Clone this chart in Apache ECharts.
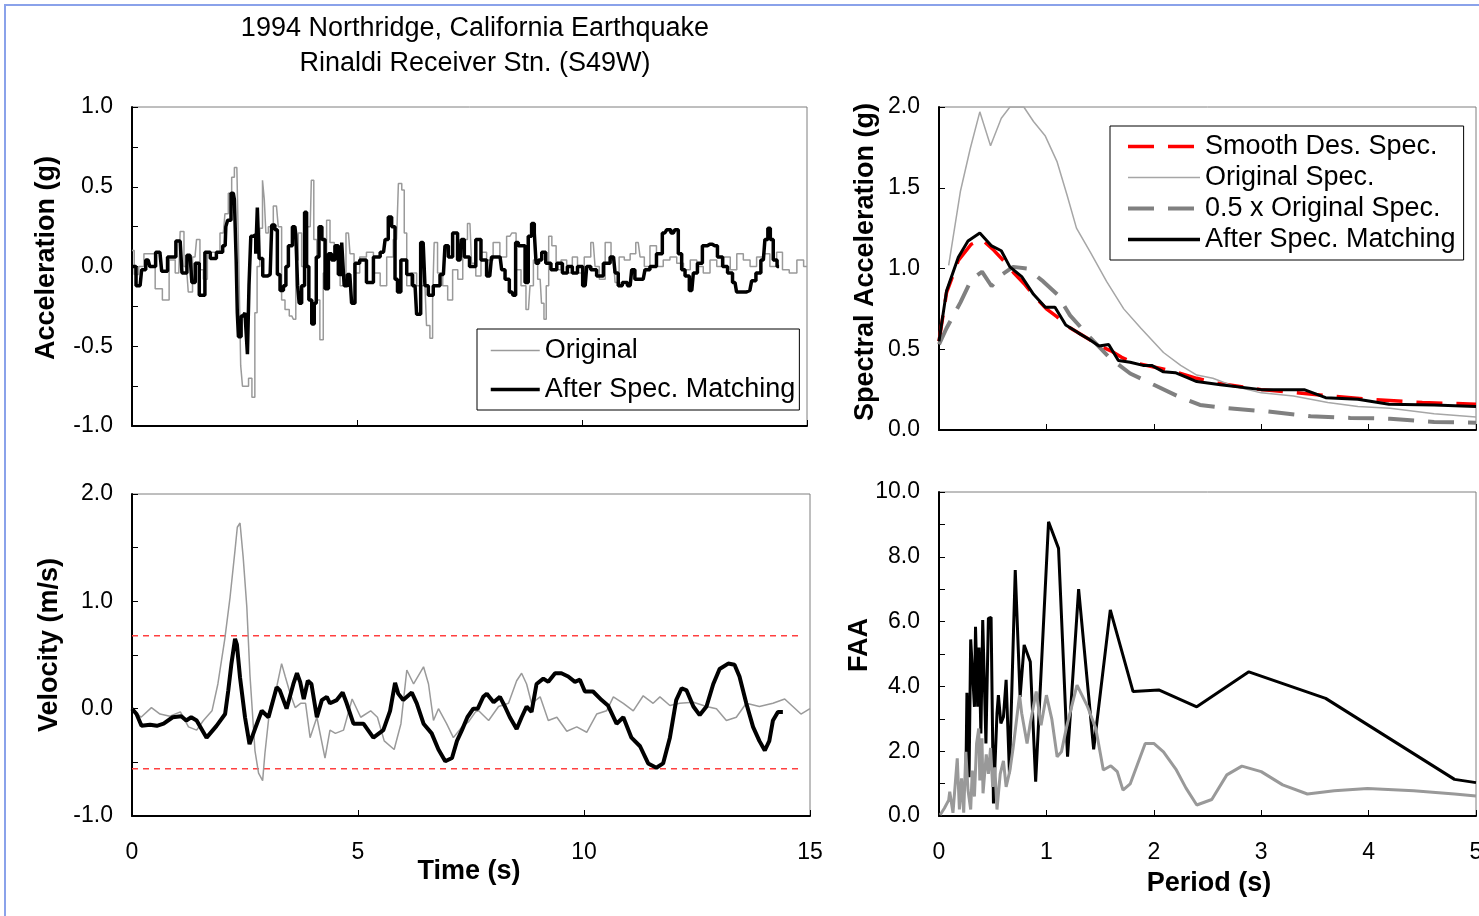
<!DOCTYPE html>
<html>
<head>
<meta charset="utf-8">
<title>1994 Northridge – Rinaldi Receiver Stn. (S49W)</title>
<script src="https://cdn.jsdelivr.net/npm/echarts@6/dist/echarts.min.js"></script>
<style>
  html, body { margin: 0; padding: 0; background: #fff; }
  #chart { width: 1479px; height: 916px; }
</style>
</head>
<body>
<div id="chart"></div>
<script>
// ---- Acceleration time histories: [time (s), acceleration (g)] ----
const accOriginal = [
  [0,0.1],[0.1,-0.05],[0.2,0],[0.33,0.08],[0.45,0.08],[0.58,-0.14],[0.77,-0.21],[0.88,0.04],[1.04,-0.04],[1.1,0.22],
  [1.21,0],[1.29,-0.16],[1.4,0.06],[1.47,0.17],[1.55,-0.02],[1.62,-0.08],[1.73,0.09],[1.88,0.09],[2.03,0.21],[2.1,0.33],
  [2.18,0.46],[2.25,0.56],[2.3,0.62],[2.36,0.62],[2.39,0],[2.44,-0.62],[2.47,-0.75],[2.55,-0.75],[2.63,-0.7],[2.7,-0.82],
  [2.76,-0.29],[2.8,0],[2.88,0.24],[2.92,0.54],[2.96,0.42],[2.99,0.21],[3.07,0.25],[3.21,0.38],[3.29,0.25],[3.36,-0.21],
  [3.44,-0.27],[3.55,-0.31],[3.62,-0.33],[3.66,0.04],[3.73,0.21],[3.81,0],[3.96,0.25],[4.01,0.54],[4.07,0.17],[4.14,-0.21],
  [4.21,-0.46],[4.29,-0.04],[4.36,0.29],[4.44,0.15],[4.55,0.08],[4.7,-0.12],[4.81,0.21],[4.88,0.08],[4.99,-0.04],[5.13,0.06],
  [5.29,0.09],[5.44,-0.04],[5.59,-0.12],[5.73,0.06],[5.88,0.17],[5.96,0.52],[6.03,0.48],[6.07,0.21],[6.14,-0.12],[6.25,-0.04],
  [6.4,-0.12],[6.51,-0.12],[6.58,-0.37],[6.66,-0.45],[6.7,-0.21],[6.73,0.15],[6.85,-0.04],[6.96,-0.12],[7.07,-0.21],[7.18,-0.02],
  [7.3,-0.08],[7.4,0.17],[7.51,0.27],[7.58,0.02],[7.7,-0.06],[7.81,0.09],[7.95,0.04],[8.1,0.15],[8.25,0.06],[8.4,0.19],
  [8.48,0.21],[8.59,-0.02],[8.7,-0.12],[8.81,-0.27],[8.88,-0.12],[8.96,0.04],[9.07,-0.08],[9.13,-0.23],[9.18,-0.33],[9.23,-0.12],
  [9.29,0.19],[9.37,0.13],[9.48,-0.02],[9.59,0.04],[9.73,-0.04],[9.84,0.06],[9.96,-0.04],[10.14,0.06],[10.25,0.15],[10.33,0],
  [10.44,-0.08],[10.59,0.15],[10.7,0.04],[10.77,-0.1],[10.88,0.06],[11.0,0.04],[11.14,0.08],[11.25,0.15],[11.33,0.06],[11.44,0],
  [11.58,0.13],[11.73,0],[11.88,0.04],[12.03,0.06],[12.18,0.02],[12.33,-0.02],[12.48,0.04],[12.62,0],[12.77,-0.04],[12.92,0.04],
  [13.07,0],[13.22,0.06],[13.37,-0.02],[13.51,0.08],[13.66,0.04],[13.81,0],[13.95,0.06],[14.1,0.08],[14.25,0],[14.4,0.09],
  [14.51,-0.02],[14.7,-0.04],[14.85,0.04],[15.0,0]
];
const accMatched = [
  [0,0],[0.18,-0.12],[0.25,-0.02],[0.36,0.04],[0.43,0],[0.62,0.09],[0.7,-0.03],[0.88,0.06],[1.07,0.16],[1.15,-0.04],
  [1.29,0.07],[1.37,-0.1],[1.44,0.02],[1.55,-0.18],[1.69,0.09],[1.79,0.05],[1.96,0.09],[2.07,0.13],[2.1,0.25],[2.15,0.29],
  [2.25,0.46],[2.3,0.42],[2.33,0.04],[2.35,-0.29],[2.38,-0.44],[2.47,-0.31],[2.55,-0.29],[2.58,-0.55],[2.62,-0.12],[2.66,0.19],
  [2.73,0.2],[2.77,0.08],[2.8,0.37],[2.85,0.05],[2.96,-0.06],[3.07,-0.05],[3.14,0.26],[3.21,0.23],[3.25,-0.05],[3.33,-0.15],
  [3.4,-0.12],[3.44,0],[3.51,0.13],[3.62,0.25],[3.66,0.2],[3.7,-0.12],[3.73,-0.23],[3.81,-0.12],[3.86,0.34],[3.9,0],
  [3.96,-0.21],[4.03,-0.36],[4.07,-0.23],[4.12,0.06],[4.19,0.25],[4.25,0.17],[4.33,-0.14],[4.4,0.08],[4.47,0.04],[4.55,0.13],
  [4.62,-0.05],[4.7,0.15],[4.73,-0.12],[4.84,-0.05],[4.92,-0.23],[4.99,0.02],[5.13,0.04],[5.29,-0.1],[5.44,0.06],[5.59,0.09],
  [5.66,0.17],[5.73,0.31],[5.81,0.25],[5.88,-0.08],[5.92,-0.16],[6.03,0.04],[6.18,-0.05],[6.29,-0.12],[6.36,-0.3],[6.47,0.15],
  [6.55,-0.12],[6.62,-0.18],[6.77,-0.12],[6.92,-0.05],[6.99,0.13],[7.07,0.06],[7.18,0.21],[7.29,0.04],[7.35,0.17],[7.42,0.06],
  [7.58,0],[7.7,0.17],[7.81,0.04],[7.95,-0.06],[8.03,0.06],[8.18,0.06],[8.25,-0.02],[8.33,-0.08],[8.44,-0.16],[8.5,-0.18],
  [8.55,0.15],[8.62,0.13],[8.7,0.13],[8.77,-0.1],[8.84,0.19],[8.92,0.27],[8.96,0.21],[9.0,0.02],[9.07,0.04],[9.14,0.09],
  [9.25,0.02],[9.37,-0.02],[9.51,0.02],[9.62,-0.04],[9.73,0],[9.84,-0.04],[9.96,0],[10.07,-0.12],[10.14,0],[10.25,-0.02],
  [10.4,-0.06],[10.55,0.02],[10.7,0.06],[10.77,-0.04],[10.84,-0.12],[10.95,-0.1],[11.07,-0.12],[11.14,-0.02],[11.21,-0.08],[11.36,-0.08],
  [11.44,-0.02],[11.58,0],[11.73,0.08],[11.84,0.21],[11.92,0.23],[12.03,0.21],[12.1,0.23],[12.18,0.08],[12.25,-0.02],[12.33,-0.06],
  [12.44,-0.15],[12.51,-0.04],[12.62,0.02],[12.73,0.13],[12.84,0.14],[12.95,0.13],[13.07,0.06],[13.18,0],[13.29,-0.04],[13.4,-0.1],
  [13.47,-0.16],[13.58,-0.16],[13.73,-0.15],[13.81,-0.09],[13.92,-0.04],[14.03,0.04],[14.1,0.17],[14.16,0.24],[14.21,0.17],[14.29,0.04],
  [14.38,0]
];

// ---- Velocity time histories: [time (s), velocity (m/s)] ----
const velOriginal = [
  [0,0],[0.2,-0.08],[0.43,0.01],[0.62,-0.05],[0.84,-0.07],[1.07,-0.03],[1.25,-0.17],[1.43,-0.2],[1.58,-0.11],[1.77,-0.02],
  [1.9,0.23],[2.05,0.64],[2.17,1.04],[2.28,1.48],[2.33,1.69],[2.39,1.73],[2.46,1.41],[2.54,0.95],[2.61,0.31],[2.72,-0.39],
  [2.8,-0.6],[2.89,-0.67],[2.94,-0.42],[3.05,0.01],[3.2,0.2],[3.31,0.42],[3.39,0.3],[3.5,0.14],[3.61,0.01],[3.73,0.05],
  [3.84,0.05],[3.94,-0.27],[4.09,-0.08],[4.27,-0.46],[4.38,-0.2],[4.5,-0.23],[4.68,-0.2],[4.87,0.09],[5.06,-0.08],[5.28,-0.02],
  [5.43,-0.08],[5.58,-0.3],[5.8,-0.38],[5.95,-0.14],[6.08,0.36],[6.23,0.23],[6.45,0.39],[6.56,0.23],[6.67,-0.11],[6.78,0],
  [6.96,-0.14],[7.11,-0.27],[7.3,-0.17],[7.45,-0.12],[7.6,-0.03],[7.67,-0.02],[7.89,-0.11],[8.11,0.02],[8.33,0.05],[8.51,0.26],
  [8.62,0.33],[8.73,0.23],[8.84,0.05],[9.03,0.11],[9.21,-0.11],[9.4,-0.08],[9.62,-0.21],[9.84,-0.17],[10.06,-0.22],[10.28,-0.05],
  [10.5,-0.02],[10.65,0.11],[10.87,0.05],[11.09,-0.02],[11.31,0.12],[11.53,0.05],[11.68,0.11],[11.9,0.03],[12.12,0.05],[12.42,0.06],
  [12.71,0.02],[12.93,0],[13.15,-0.11],[13.37,-0.08],[13.59,0.05],[13.88,0.02],[14.18,0.05],[14.44,0.09],[14.62,0.02],[14.8,-0.05],
  [15.0,0]
];
const velMatched = [
  [0,0],[0.1,-0.05],[0.21,-0.16],[0.4,-0.15],[0.55,-0.16],[0.7,-0.14],[0.9,-0.08],[1.09,-0.07],[1.2,-0.11],[1.31,-0.08],
  [1.43,-0.11],[1.65,-0.27],[1.87,-0.16],[2.06,-0.05],[2.13,0.17],[2.2,0.42],[2.28,0.65],[2.32,0.6],[2.39,0.29],[2.5,-0.08],
  [2.6,-0.33],[2.72,-0.19],[2.87,-0.02],[3.02,-0.08],[3.2,0.2],[3.27,0.17],[3.42,0],[3.57,0.23],[3.65,0.33],[3.72,0.25],
  [3.8,0.09],[3.89,0.26],[3.97,0.23],[4.09,-0.08],[4.2,0.08],[4.31,0.11],[4.38,0.05],[4.53,0.08],[4.66,0.15],[4.75,0.05],
  [4.9,-0.14],[5.12,-0.14],[5.34,-0.27],[5.56,-0.2],[5.71,-0.02],[5.82,0.24],[5.89,0.14],[6.0,0.08],[6.19,0.15],[6.3,0.05],
  [6.45,-0.14],[6.63,-0.23],[6.78,-0.38],[6.93,-0.49],[7.08,-0.46],[7.19,-0.3],[7.3,-0.2],[7.42,-0.08],[7.55,0],[7.65,0],
  [7.77,0.11],[7.85,0.14],[8.0,0.06],[8.14,0.11],[8.25,0.02],[8.36,-0.08],[8.51,-0.19],[8.62,-0.08],[8.73,0.02],[8.84,-0.03],
  [8.95,0.23],[9.1,0.28],[9.21,0.25],[9.36,0.33],[9.5,0.33],[9.65,0.3],[9.8,0.25],[9.91,0.27],[10.02,0.16],[10.2,0.16],
  [10.39,0.08],[10.53,0.03],[10.72,-0.14],[10.87,-0.08],[11.05,-0.27],[11.24,-0.35],[11.42,-0.51],[11.6,-0.55],[11.75,-0.51],[11.9,-0.27],
  [12.04,0.08],[12.16,0.19],[12.27,0.17],[12.42,0.02],[12.56,-0.06],[12.71,0.02],[12.86,0.23],[13.0,0.37],[13.19,0.42],[13.33,0.41],
  [13.44,0.3],[13.59,0.05],[13.74,-0.17],[13.88,-0.3],[14.0,-0.39],[14.1,-0.3],[14.18,-0.11],[14.29,-0.03],[14.4,-0.03]
];
// peak velocity bounds of the matched record (m/s) and the time span they cover
const velBounds = [0.68, -0.56];
const velBoundSpan = [0, 14.8];

// ---- Response spectra: [period (s), spectral acceleration (g)] ----
const saTarget = [
  [0,0.55],[0.07,0.85],[0.18,1.05],[0.3,1.15],[0.4,1.18],[0.5,1.12],[0.6,1.05],[0.7,0.97],[0.8,0.9],[0.9,0.82],
  [1.0,0.75],[1.1,0.7],[1.2,0.64],[1.3,0.6],[1.4,0.56],[1.5,0.52],[1.6,0.49],[1.7,0.45],[1.8,0.42],[2.0,0.39],
  [2.2,0.36],[2.4,0.32],[2.6,0.29],[2.8,0.27],[3.0,0.25],[3.5,0.22],[4.0,0.19],[4.5,0.17],[5.0,0.16]
];
const saOriginal = [
  [0.09,1.02],[0.2,1.48],[0.29,1.74],[0.38,1.97],[0.48,1.76],[0.58,1.93],[0.66,2.0],[0.79,2.0],[0.88,1.91],[0.99,1.82],
  [1.1,1.66],[1.19,1.46],[1.28,1.25],[1.41,1.1],[1.56,0.92],[1.72,0.75],[1.88,0.63],[2.09,0.48],[2.25,0.4],[2.4,0.34],
  [2.55,0.32],[2.75,0.27],[3.0,0.23],[3.3,0.21],[3.62,0.17],[3.9,0.145],[4.2,0.135],[4.61,0.1],[5.0,0.08]
];
const saHalfOriginal = [
  [0,0.53],[0.07,0.63],[0.2,0.79],[0.3,0.93],[0.4,0.98],[0.49,0.89],[0.58,0.96],[0.69,1.01],[0.82,1.0],[0.97,0.92],
  [1.1,0.84],[1.22,0.71],[1.41,0.57],[1.6,0.44],[1.78,0.35],[2.0,0.28],[2.22,0.21],[2.43,0.155],[2.68,0.135],[3.06,0.115],
  [3.46,0.085],[3.83,0.075],[4.2,0.07],[4.61,0.05],[5.0,0.045]
];
const saMatched = [
  [0,0.55],[0.07,0.86],[0.18,1.07],[0.27,1.17],[0.38,1.22],[0.49,1.14],[0.58,1.11],[0.66,1.01],[0.77,0.95],[0.88,0.84],
  [0.99,0.76],[1.08,0.76],[1.18,0.65],[1.3,0.6],[1.4,0.56],[1.49,0.52],[1.58,0.53],[1.67,0.43],[1.78,0.42],[1.9,0.4],
  [1.98,0.4],[2.09,0.36],[2.2,0.355],[2.29,0.33],[2.4,0.3],[2.62,0.28],[3.0,0.25],[3.4,0.25],[3.6,0.2],[3.9,0.19],
  [4.19,0.16],[4.61,0.155],[5.0,0.145]
];

// ---- Fourier amplitude: [period (s), FAA] ----
const faaMatched = [
  [0.25,1.1],[0.26,3.8],[0.28,1.2],[0.295,5.45],[0.31,5.4],[0.33,3.37],[0.34,5.84],[0.36,3.37],[0.373,5.2],[0.39,2.55],
  [0.407,6.05],[0.42,6.0],[0.437,2.24],[0.46,6.1],[0.485,6.13],[0.507,0.39],[0.54,3.17],[0.553,3.73],[0.576,2.86],[0.6,3.06],
  [0.625,4.2],[0.656,1.32],[0.71,7.59],[0.755,3.68],[0.793,5.28],[0.85,4.76],[0.9,1.06],[1.02,9.08],[1.113,8.26],[1.197,1.83],
  [1.3,7.0],[1.44,2.06],[1.595,6.36],[1.807,3.84],[2.046,3.89],[2.4,3.37],[2.885,4.45],[3.6,3.63],[4.8,1.13],[5.0,1.03]
];
const faaOriginal = [
  [0.01,0.03],[0.05,0.24],[0.09,0.49],[0.1,0.75],[0.13,0.1],[0.17,1.78],[0.19,0.2],[0.21,1.16],[0.23,0.1],[0.25,1.98],
  [0.27,0.8],[0.295,0.2],[0.31,1.4],[0.33,0.6],[0.35,2.24],[0.37,2.7],[0.38,1.1],[0.4,2.4],[0.41,0.7],[0.44,1.9],
  [0.46,1.3],[0.48,2.1],[0.5,0.9],[0.52,1.5],[0.54,0.2],[0.57,1.3],[0.6,1.7],[0.625,0.9],[0.66,1.4],[0.69,2.1],
  [0.75,3.73],[0.77,3.17],[0.82,2.24],[0.85,2.86],[0.905,3.84],[0.95,2.8],[1.0,3.73],[1.05,3.0],[1.1,1.83],[1.14,1.98],
  [1.19,2.78],[1.285,4.04],[1.38,3.4],[1.46,2.7],[1.53,1.42],[1.6,1.55],[1.66,1.37],[1.713,0.8],[1.78,0.99],[1.92,2.24],
  [2.0,2.24],[2.09,1.98],[2.21,1.42],[2.3,0.86],[2.4,0.34],[2.54,0.51],[2.68,1.27],[2.82,1.54],[3.0,1.37],[3.2,0.96],
  [3.43,0.68],[3.68,0.78],[3.99,0.85],[4.42,0.78],[4.8,0.68],[5.0,0.62]
];

// ---- Text ----
const titleLines = ['1994 Northridge, California Earthquake', 'Rinaldi Receiver Stn. (S49W)'];
const legendTime = ['Original', 'After Spec. Matching'];
const legendSpec = ['Smooth Des. Spec.', 'Original Spec.', '0.5 x Original Spec.', 'After Spec. Matching'];

const FONT = '"Liberation Sans", Arial, Helvetica, sans-serif';
const chart = echarts.init(document.getElementById('chart'), null, { renderer: 'canvas' });

function xAxisCfg(grid, max, interval, showLabels) {
  return {
    gridIndex: grid, type: 'value', min: 0, max: max, interval: interval,
    axisLine: { onZero: false, lineStyle: { color: '#000', width: 2 } },
    axisTick: { inside: true, length: 6, lineStyle: { color: '#000', width: 1 } },
    axisLabel: { show: showLabels, margin: 25, fontSize: 23, color: '#000', fontFamily: FONT },
    splitLine: { show: false }
  };
}
function yAxisCfg(grid, min, max, interval, labelStep) {
  return {
    gridIndex: grid, type: 'value', min: min, max: max, interval: interval,
    axisLine: { onZero: false, lineStyle: { color: '#000', width: 2 } },
    axisTick: { inside: true, length: 6, lineStyle: { color: '#000', width: 1 } },
    axisLabel: {
      margin: 19, fontSize: 23, color: '#000', fontFamily: FONT,
      formatter: function (v) {
        const k = v / labelStep;
        return Math.abs(k - Math.round(k)) < 1e-6 ? v.toFixed(1) : '';
      }
    },
    splitLine: { show: false }
  };
}
function lineSeries(name, data, xi, color, width, extra) {
  return Object.assign({
    name: name, type: 'line', data: data, xAxisIndex: xi, yAxisIndex: xi,
    symbol: 'none', showSymbol: false, smooth: false, animation: false,
    lineStyle: { color: color, width: width }, itemStyle: { color: color }
  }, extra || {});
}
function axisTitle(text, x, y, vertical) {
  return {
    type: 'text', x: x, y: y, rotation: vertical ? Math.PI / 2 : 0,
    style: { text: text, font: 'bold 27px ' + FONT, fill: '#000', align: 'center', verticalAlign: 'middle' }
  };
}

// fixed plot boxes; labels may run to the page edge
const gridBox = { show: true, borderColor: '#7f7f7f', borderWidth: 1, backgroundColor: '#fff',
  containLabel: false, outerBoundsMode: 'none' };
// legend keys are plain line samples: hide the marker symbol in the middle
const legendKey = { color: 'rgba(0,0,0,0)', borderWidth: 0, opacity: 0 };
const legendLine = { width: 'inherit', type: 'inherit', color: 'inherit' };
const DASH = [26, 14];

const option = {
  backgroundColor: '#fff',
  animation: false,
  title: {
    text: titleLines.join('\n'), left: 470, top: 6, textAlign: 'center',
    textStyle: { fontSize: 27, fontWeight: 'normal', color: '#000', fontFamily: FONT, lineHeight: 35 }
  },
  grid: [
    Object.assign({ left: 132, top: 107, width: 675, height: 319 }, gridBox),
    Object.assign({ left: 132, top: 494, width: 678, height: 322 }, gridBox),
    Object.assign({ left: 939, top: 107, width: 537, height: 323 }, gridBox),
    Object.assign({ left: 939, top: 492, width: 537, height: 324 }, gridBox)
  ],
  xAxis: [
    xAxisCfg(0, 15, 5, false),
    xAxisCfg(1, 15, 5, true),
    xAxisCfg(2, 5, 1, false),
    xAxisCfg(3, 5, 1, true)
  ],
  yAxis: [
    yAxisCfg(0, -1, 1, 0.25, 0.5),
    yAxisCfg(1, -1, 2, 0.5, 1),
    yAxisCfg(2, 0, 2, 0.5, 0.5),
    yAxisCfg(3, 0, 10, 1, 2)
  ],
  legend: [
    {
      data: legendTime, orient: 'vertical', left: 477, top: 329,
      padding: [6, 4, 5, 12], itemWidth: 49, itemHeight: 14, itemGap: 8,
      backgroundColor: '#fff', borderColor: '#000', borderWidth: 1, borderRadius: 0,
      selectedMode: false, itemStyle: legendKey, lineStyle: legendLine,
      textStyle: { fontSize: 27, color: '#000', fontFamily: FONT, lineHeight: 31 }
    },
    {
      data: legendSpec, orient: 'vertical', left: 1110, top: 126,
      padding: [6, 8, 6, 16], itemWidth: 72, itemHeight: 14, itemGap: 2,
      backgroundColor: '#fff', borderColor: '#000', borderWidth: 1, borderRadius: 0,
      selectedMode: false, itemStyle: legendKey, lineStyle: legendLine,
      textStyle: { fontSize: 27, color: '#000', fontFamily: FONT, lineHeight: 29 }
    }
  ],
  graphic: [
    // outer frame
    { type: 'rect', shape: { x: 5, y: 5, width: 1600, height: 1000 },
      style: { fill: 'none', stroke: '#8aa2ea', lineWidth: 2 }, z: -10 },
    axisTitle('Acceleration (g)', 47, 258, true),
    axisTitle('Velocity (m/s)', 50, 645, true),
    axisTitle('Time (s)', 469, 872, false),
    axisTitle('Spectral Acceleration (g)', 866, 262, true),
    axisTitle('FAA', 860, 645, true),
    axisTitle('Period (s)', 1209, 884, false)
  ],
  series: [
    // acceleration
    lineSeries('Original', accOriginal, 0, '#9a9a9a', 1.5, { step: 'middle' }),
    lineSeries('After Spec. Matching', accMatched, 0, '#000', 3.5, { step: 'middle' }),
    // velocity
    lineSeries('velUpper', velBoundSpan.map(t => [t, velBounds[0]]), 1, '#ff4040', 1.5,
      { lineStyle: { color: '#ff4040', width: 1.5, type: [6, 5] } }),
    lineSeries('velLower', velBoundSpan.map(t => [t, velBounds[1]]), 1, '#ff4040', 1.5,
      { lineStyle: { color: '#ff4040', width: 1.5, type: [6, 5] } }),
    lineSeries('Original', velOriginal, 1, '#9a9a9a', 1.5),
    lineSeries('After Spec. Matching', velMatched, 1, '#000', 4),
    // response spectra
    lineSeries('Smooth Des. Spec.', saTarget, 2, '#ff0000', 3.5,
      { lineStyle: { color: '#ff0000', width: 3.5, type: DASH } }),
    lineSeries('Original Spec.', saOriginal, 2, '#a6a6a6', 1.5),
    lineSeries('0.5 x Original Spec.', saHalfOriginal, 2, '#808080', 4,
      { lineStyle: { color: '#808080', width: 4, type: DASH } }),
    lineSeries('After Spec. Matching', saMatched, 2, '#000', 3),
    // Fourier amplitude
    lineSeries('faaMatched', faaMatched, 3, '#000', 3),
    lineSeries('faaOriginal', faaOriginal, 3, '#999999', 3)
  ]
};

chart.setOption(option);
</script>
</body>
</html>
